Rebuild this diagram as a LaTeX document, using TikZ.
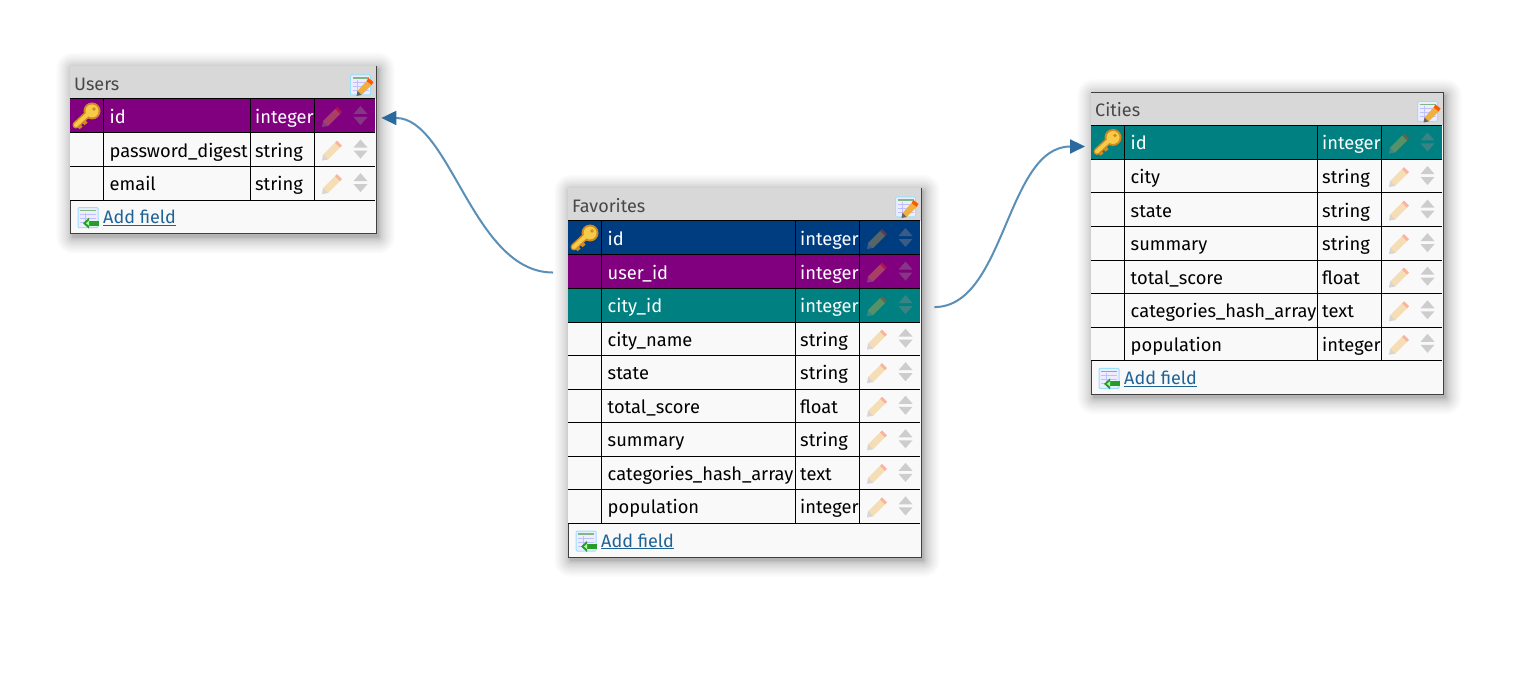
\documentclass[tikz,border=0pt]{standalone}
\usepackage{fontspec}
\setmainfont{Fira Sans}
\usetikzlibrary{arrows.meta}

\definecolor{favblue}{HTML}{003C80}
\definecolor{fkpurple}{HTML}{800080}
\definecolor{fkteal}{HTML}{008080}
\definecolor{rowbg}{HTML}{F9F9F9}
\definecolor{titlebg}{HTML}{D8D8D8}
\definecolor{linkblue}{HTML}{1F6296}
\definecolor{curveblue}{HTML}{5A8FB8}
\definecolor{tipblue}{HTML}{2A6A9E}
\definecolor{penbody}{HTML}{F0B040}
\definecolor{pengold}{HTML}{F6CB4A}
\definecolor{keyedge}{HTML}{D08A20}

\tikzset{
  tablebox/.style={draw=black!75,fill=rowbg,line width=1pt,anchor=north west,inner sep=0pt},
  shadowlayer/.style={fill=black,opacity=0.02},
  rowbox/.style={anchor=north west,inner sep=0pt,minimum height=33.55pt},
  celltext/.style={anchor=base west,inner sep=0pt,font=\fontsize{18.3}{23}\selectfont},
  titletext/.style={celltext,text=black!72,font=\fontsize{18}{23}\selectfont},
  addtext/.style={celltext,text=linkblue,font=\fontsize{18}{23}\selectfont},
  fklink/.style={curveblue,line width=2pt,-{Triangle[length=15pt,width=14pt,color=tipblue]}},
  fkstart/.style={shorten <=#1},
  fkend/.style={shorten >=#1},
  pencilicon/.pic={
    \begin{scope}[opacity=0.36]
      \fill[penbody] (-9,5) -- (3,-7) -- (8,-2) -- (-4,10) -- cycle;
      \fill[red!55!orange] (3,-7) -- (5,-9) -- (10,-4) -- (8,-2) -- cycle;
      \fill[black!40] (-9,5) -- (-4,10) -- (-10,11) -- cycle;
    \end{scope}},
  updownicon/.pic={
    \fill[black!45,opacity=0.4] (-7,-2) -- (7,-2) -- (0,-10) -- cycle;
    \fill[black!45,opacity=0.4] (-7,1) -- (7,1) -- (0,9) -- cycle;},
  keyicon/.pic={
    \draw[keyedge,line width=7pt,line cap=round] (-10,9) -- (3,-3);
    \draw[keyedge,line width=4pt] (-9,7) -- (-5,12) (-4,3) -- (0,8);
    \fill[keyedge] (6,-5) circle (8.5);
    \draw[pengold,line width=4pt,line cap=round] (-10,9) -- (3,-3);
    \fill[pengold] (6,-5) circle (6.5);
    \fill[keyedge] (8,-7) circle (1.8);},
  sheeticon/.pic={
    \draw[blue!30!cyan!40,fill=blue!7,line width=1pt,rounded corners=1pt] (-10,-10) rectangle (10,10);
    \draw[green!45!black!50,line width=1.5pt] (-8,-7) -- (8,-7);
    \draw[blue!25,line width=.7pt] (-8,-3) -- (8,-3) (-8,1) -- (8,1) (-8,5) -- (8,5) (-3,-5) -- (-3,8);},
  editicon/.pic={
    \pic {sheeticon};
    \fill[penbody] (-3,6) -- (6,-4) -- (11,0) -- (1,10) -- cycle;
    \fill[orange!70!red] (6,-4) -- (8,-7) -- (13,-3) -- (11,0) -- cycle;
    \fill[black!60] (-3,6) -- (1,10) -- (-4,11) -- cycle;},
  addicon/.pic={
    \pic {sheeticon};
    \fill[green!55!black!85] (1,3) rectangle (11,8);
    \fill[green!55!black!85] (-5,5.5) -- (1,0) -- (1,11) -- cycle;
    \fill[green!30] (-2,5.5) -- (1,3) -- (1,8) -- cycle;}
}

% name, x, y, name column width, title, number of rows, rows
\newcommand{\dbtable}[7]{
  \pgfmathsetmacro{\tw}{34+#4+64+61}
  \pgfmathsetmacro{\th}{33+33.55*(#6+1)}
  \foreach \s [evaluate=\s as \d using \s*\s/16] in {1,...,16}
    \fill[shadowlayer,rounded corners=\d pt] (#2+3-\d,#3+3-\d) rectangle (#2+\tw+3+\d,#3+\th+4+\d);
  \node[tablebox,minimum width=\tw pt,minimum height=\th pt] (#1) at (#2,#3) {};
  \path[fill=titlebg] ([shift={(.5pt,-.5pt)}]#1.north west) rectangle ([shift={(-.5pt,-33pt)}]#1.north east);
  \node[titletext] (#1-title) at ([shift={(4.5pt,-24.5pt)}]#1.north west) {#5};
  \pic at ([shift={(-16pt,-19pt)}]#1.north east) {editicon};
  \foreach \fname/\ftype/\frow/\ftext [count=\n] in {#7} {
    \pgfmathsetmacro{\ry}{#3+33+33.55*(\n-1)}
    \pgfmathsetmacro{\rw}{\tw-1}
    \node[rowbox,fill=\frow,minimum width=\rw pt] (#1-\n) at (#2+.5,\ry) {};
    \node[celltext,text=\ftext] (#1-\n-name) at ([shift={(39.5pt,-24.5pt)}]#1-\n.north west) {\fname};
    \node[celltext,text=\ftext] (#1-\n-type) at ([shift={(38pt+#4pt,-24.5pt)}]#1-\n.north west) {\ftype};
    \pic at ([shift={(33.5pt+#4pt+64pt+17.5pt,-17pt)}]#1-\n.north west) {pencilicon};
    \pic at ([shift={(33.5pt+#4pt+64pt+46pt,-17pt)}]#1-\n.north west) {updownicon};
    \ifnum\n=1
      \pic at ([shift={(16pt,-17pt)}]#1-\n.north west) {keyicon};
    \fi
  }
  % grid goes on top of all the rows
  \foreach \n in {1,...,#6} {
    \draw[line width=1pt] (#1-\n.south west) -- (#1-\n.south east);
    \foreach \colx in {33.5,{33.5+#4},{33.5+#4+64}}
      \draw[line width=1pt] ([xshift=\colx pt]#1-\n.north west) -- ([xshift=\colx pt]#1-\n.south west);
  }
  \draw[line width=1pt] (#1-1.north west) -- (#1-1.north east);
  \pic at ([shift={(18.5pt,16.5pt)}]#1.south west) {addicon};
  \node[addtext] (#1-add) at ([shift={(33.5pt,10.5pt)}]#1.south west) {\underline{Add field}};
}

\begin{document}
\begin{tikzpicture}[x=1pt,y=-1pt]
\path[use as bounding box,fill=white] (0,0) rectangle (1523,695);

\dbtable{users}{69.5}{66}{147}{Users}{3}{
  id/integer/fkpurple/white,
  password\_digest/string/rowbg/black,
  email/string/rowbg/black}

\dbtable{favorites}{567.5}{188}{194}{Favorites}{9}{
  id/integer/favblue/white,
  user\_id/integer/fkpurple/white,
  city\_id/integer/fkteal/white,
  city\_name/string/rowbg/black,
  state/string/rowbg/black,
  total\_score/float/rowbg/black,
  summary/string/rowbg/black,
  categories\_hash\_array/text/rowbg/black,
  population/integer/rowbg/black}

\dbtable{cities}{1090.5}{92.5}{193}{Cities}{7}{
  id/integer/fkteal/white,
  city/string/rowbg/black,
  state/string/rowbg/black,
  summary/string/rowbg/black,
  total\_score/float/rowbg/black,
  categories\_hash\_array/text/rowbg/black,
  population/integer/rowbg/black}

% foreign keys
\draw[fklink,fkstart=15pt,fkend=6pt] ([yshift=-1pt]favorites-2.west) .. controls +(-95,0) and +(75,0) .. ([yshift=-2pt]users-1.east);
\draw[fklink,fkstart=14pt,fkend=6pt] ([yshift=-2pt]favorites-3.east) .. controls +(85,0) and +(-85,0) .. ([yshift=-4pt]cities-1.west);
\end{tikzpicture}
\end{document}
